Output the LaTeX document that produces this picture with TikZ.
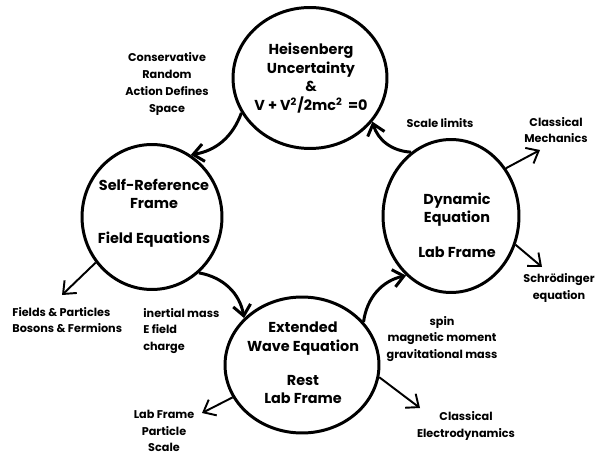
\documentclass[tikz,border=0pt]{standalone}
\usepackage{fontspec}
\setmainfont{Poppins}
\usetikzlibrary{shapes.geometric,arrows.meta}

\tikzset{
  stage/.style={draw, ellipse, line width=1.7pt, inner sep=0pt},
  stagetext/.style={align=center, inner sep=0pt, font=\fontsize{8.2}{10.5}\selectfont\bfseries},
  note/.style={align=center, inner sep=0pt, font=\fontsize{6.4}{9.5}\selectfont\bfseries},
  cycle/.style={line width=1.7pt, -{Straight Barb[length=6pt,width=10pt,line width=1.7pt]}},
  branch/.style={line width=1.1pt, -{Straight Barb[length=6pt,width=10pt,line width=1.1pt]}},
}

\begin{document}
\begin{tikzpicture}[x=0.02cm, y=-0.02cm]

	% ------------------------------------------------------------
	% Canvas
	% ------------------------------------------------------------

	\useasboundingbox (0,0) rectangle (597,452);

	% ------------------------------------------------------------
	% Stages (circles)
	% ------------------------------------------------------------

	\node[stage, minimum width=3.08cm, minimum height=2.82cm] (heis) at (310,78) {};
	\node[stage, minimum width=2.80cm, minimum height=2.90cm] (self) at (152,217) {};
	\node[stage, minimum width=2.72cm, minimum height=3.06cm] (dyn)  at (451,216) {};
	\node[stage, minimum width=3.08cm, minimum height=2.72cm] (wave) at (302,365) {};

	\node[stagetext] (heis-txt) at (311,78)
	{Heisenberg\\Uncertainty\\\&\\V + V\textsuperscript{2}/2mc\textsuperscript{2} \,=0};
	\node[stagetext] (self-txt) at (154,213)
	{Self-Reference\\Frame\\[9pt]Field Equations};
	\node[stagetext] (dyn-txt) at (457,225)
	{Dynamic\\Equation\\[9pt]Lab Frame};
	\node[stagetext] (wave-txt) at (303,363)
	{Extended\\Wave Equation\\[9pt]Rest\\Lab Frame};

	% ------------------------------------------------------------
	% Cycle
	% ------------------------------------------------------------

	\draw[cycle] (heis.207) to[bend left=30] (self.58);
	\draw[cycle] (self.310) to[bend left=35] (wave.141);
	\draw[cycle] (wave.35)  to[bend left=35] (dyn.233);
	\draw[cycle] (dyn.122)  to[bend left=35] (heis.325);

	% ------------------------------------------------------------
	% Labels on the cycle
	% ------------------------------------------------------------

	\node[note] (random) at (167,84)
	{Conservative\\Random\\Action Defines\\Space};
	\node[note, anchor=west, align=left] (inertial) at (143,331)
	{inertial mass\\E field\\charge};
	\node[note] (spin) at (442,339)
	{spin\\magnetic moment\\gravitational mass};
	\node[note] (limits) at (440,123) {Scale limits};

	% ------------------------------------------------------------
	% Branches
	% ------------------------------------------------------------

	\coordinate (fields-end) at (62,295);
	\coordinate (mech-end)   at (540,150);
	\coordinate (schr-end)   at (542,267);
	\coordinate (scale-end)  at (202,413);
	\coordinate (edyn-end)   at (420,408);

	\draw[branch] (self.219) -- (fields-end);
	\draw[branch] (dyn.41)   -- (mech-end);
	\draw[branch] (dyn.336)  -- (schr-end);
	\draw[branch] (wave.205) -- (scale-end);
	\draw[branch] (wave.351) -- (edyn-end);

	\node[note, anchor=west, align=left] (fields) at (12,320)
	{Fields \& Particles\\Bosons \& Fermions};
	\node[note] (mech)  at (556,130) {Classical\\Mechanics};
	\node[note] (schr)  at (559,288) {Schrödinger\\equation};
	\node[note] (scale) at (164,431) {Lab Frame\\Particle\\Scale};
	\node[note] (edyn)  at (466,426) {Classical\\Electrodynamics};

\end{tikzpicture}
\end{document}
